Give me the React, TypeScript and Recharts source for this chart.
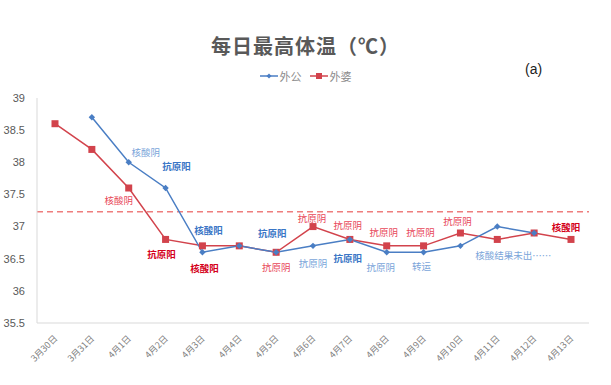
import { Line, LineChart, ReferenceLine, XAxis, YAxis, LabelList } from "recharts"

const DAYS = [
  "3月30日", "3月31日", "4月1日", "4月2日", "4月3日", "4月4日", "4月5日", "4月6日",
  "4月7日", "4月8日", "4月9日", "4月10日", "4月11日", "4月12日", "4月13日",
]
const GRANDPA = [null, 38.7, 38.0, 37.6, 36.6, 36.7, 36.6, 36.7, 36.8, 36.6, 36.6, 36.7, 37.0, 36.9, null]
const GRANDMA = [38.6, 38.2, 37.6, 36.8, 36.7, 36.7, 36.6, 37.0, 36.8, 36.7, 36.7, 36.9, 36.8, 36.9, 36.8]
const GRANDPA_NOTES = ["", "", "核酸阴", "抗原阳", "核酸阳", "", "抗原阳", "抗原阴", "抗原阳", "抗原阴", "转运", "", "核酸结果未出……", "", ""]
const GRANDMA_NOTES = ["", "", "核酸阴", "抗原阳", "核酸阳", "", "抗原阴", "抗原阴", "抗原阴", "抗原阴", "抗原阴", "抗原阴", "", "", "核酸阳"]
const Y_TICKS = [35.5, 36, 36.5, 37, 37.5, 38, 38.5, 39]
const FEVER_LINE = 37.23

const BLUE = "#4a7ec4"
const RED = "#d2434c"

// label offsets from the point, per index
const BLUE_OFFSETS: Record<number, [number, number]> = {
  2: [17, -10], 3: [11, -22], 4: [6, -22], 6: [-4, -19], 7: [0, 17],
  8: [-2, 19], 9: [-6, 15], 10: [-2, 14], 12: [16, 28],
}
const RED_OFFSETS: Record<number, [number, number]> = {
  2: [-10, 12], 3: [-4, 15], 4: [2, 22], 6: [0, 15], 7: [-1, -9],
  8: [-2, -14], 9: [-3, -14], 10: [-3, -14], 11: [-3, -12], 14: [-5, -12],
}

const data = DAYS.map((d, i) => ({
  day: d,
  外公: GRANDPA[i],
  外婆: GRANDMA[i],
  bNote: GRANDPA_NOTES[i],
  rNote: GRANDMA_NOTES[i],
}))

const isPositive = (t: string) => t.endsWith("阳")

function noteRenderer(notes: string[], offsets: Record<number, [number, number]>, which: "blue" | "red") {
  return (props: any) => {
    const { x, y, index } = props
    const t = notes[index]
    if (!t || x == null || y == null) return null
    const [dx, dy] = offsets[index] ?? [0, -12]
    const pos = isPositive(t)
    let fill: string
    if (which === "blue") fill = pos ? "#3a76c6" : "#7aa5da"
    else fill = pos ? "#d4001a" : "#e8485a"
    return (
      <text
        x={x + dx}
        y={y + dy}
        textAnchor="middle"
        dominantBaseline="central"
        fontSize={9.5}
        fontWeight={pos ? 700 : 400}
        fill={fill}
        fontFamily="'Noto Sans CJK SC', sans-serif"
      >
        {t}
      </text>
    )
  }
}

const Diamond = (props: any) => {
  const { cx, cy } = props
  if (cx == null || cy == null || props.value == null) return null
  return <path d={`M${cx},${cy - 3.2}L${cx + 3.2},${cy}L${cx},${cy + 3.2}L${cx - 3.2},${cy}Z`} fill={BLUE} />
}
const Square = (props: any) => {
  const { cx, cy } = props
  if (cx == null || cy == null) return null
  return <rect x={cx - 3.5} y={cy - 3.5} width={7} height={7} fill={RED} />
}

const XTick = (props: any) => {
  const { x, y, payload } = props
  return (
    <text
      x={x + 3}
      y={y + 8}
      transform={`rotate(-45 ${x + 3} ${y + 8})`}
      textAnchor="end"
      fontSize={9}
      fill="#7f7f7f"
      fontFamily="'Noto Sans CJK SC', sans-serif"
    >
      {payload.value}
    </text>
  )
}

export default function App() {
  return (
    <div style={{ position: "absolute", left: 0, top: 0, width: 611, height: 385, background: "#fff", fontFamily: "'Noto Sans CJK SC', sans-serif" }}>
      <div style={{ position: "absolute", left: 0, width: 611, top: 31, textAlign: "center", fontSize: 20, fontWeight: 700, color: "#595959", letterSpacing: 1 }}>
        每日最高体温（℃）
      </div>
      <div style={{ position: "absolute", left: 0, width: 611, top: 68, display: "flex", justifyContent: "center", gap: 8, fontSize: 11, color: "#8c8c8c" }}>
        <span style={{ display: "flex", alignItems: "center", gap: 2 }}>
          <svg width={18} height={8}>
            <line x1={0} y1={4} x2={18} y2={4} stroke={BLUE} strokeWidth={1.5} />
            <path d="M9,1.5L11.5,4L9,6.5L6.5,4Z" fill={BLUE} />
          </svg>
          外公
        </span>
        <span style={{ display: "flex", alignItems: "center", gap: 2 }}>
          <svg width={18} height={8}>
            <line x1={0} y1={4} x2={18} y2={4} stroke={RED} strokeWidth={1.5} />
            <rect x={6} y={1} width={6} height={6} fill={RED} />
          </svg>
          外婆
        </span>
      </div>
      <div style={{ position: "absolute", left: 525, top: 61, fontSize: 14, color: "#222", fontFamily: "'Liberation Sans', sans-serif" }}>(a)</div>
      <LineChart width={611} height={385} data={data} margin={{ top: 98, right: 22, bottom: 0, left: 0 }} style={{ position: "absolute", left: 0, top: 0 }}>
        <XAxis
          dataKey="day"
          interval={0}
          tickLine={false}
          axisLine={{ stroke: "#d9d9d9" }}
          tick={<XTick />}
          height={62}
          padding={{ left: 18, right: 18 }}
        />
        <YAxis
          domain={[35.5, 39]}
          ticks={Y_TICKS}
          width={37}
          tickLine={false}
          axisLine={{ stroke: "#d9d9d9" }}
          tick={{ fill: "#595959", fontSize: 11, fontFamily: "'Liberation Sans', sans-serif" }}
          tickMargin={6}
        />
        <ReferenceLine y={FEVER_LINE} stroke="#ee7d7d" strokeWidth={1.5} strokeDasharray="6 4" />
        <Line
          dataKey="外婆"
          stroke={RED}
          strokeWidth={1.5}
          dot={<Square />}
          isAnimationActive={false}
        >
          <LabelList dataKey="rNote" content={noteRenderer(GRANDMA_NOTES, RED_OFFSETS, "red")} />
        </Line>
        <Line
          dataKey="外公"
          stroke={BLUE}
          strokeWidth={1.5}
          dot={<Diamond />}
          isAnimationActive={false}
        >
          <LabelList dataKey="bNote" content={noteRenderer(GRANDPA_NOTES, BLUE_OFFSETS, "blue")} />
        </Line>
      </LineChart>
    </div>
  )
}
